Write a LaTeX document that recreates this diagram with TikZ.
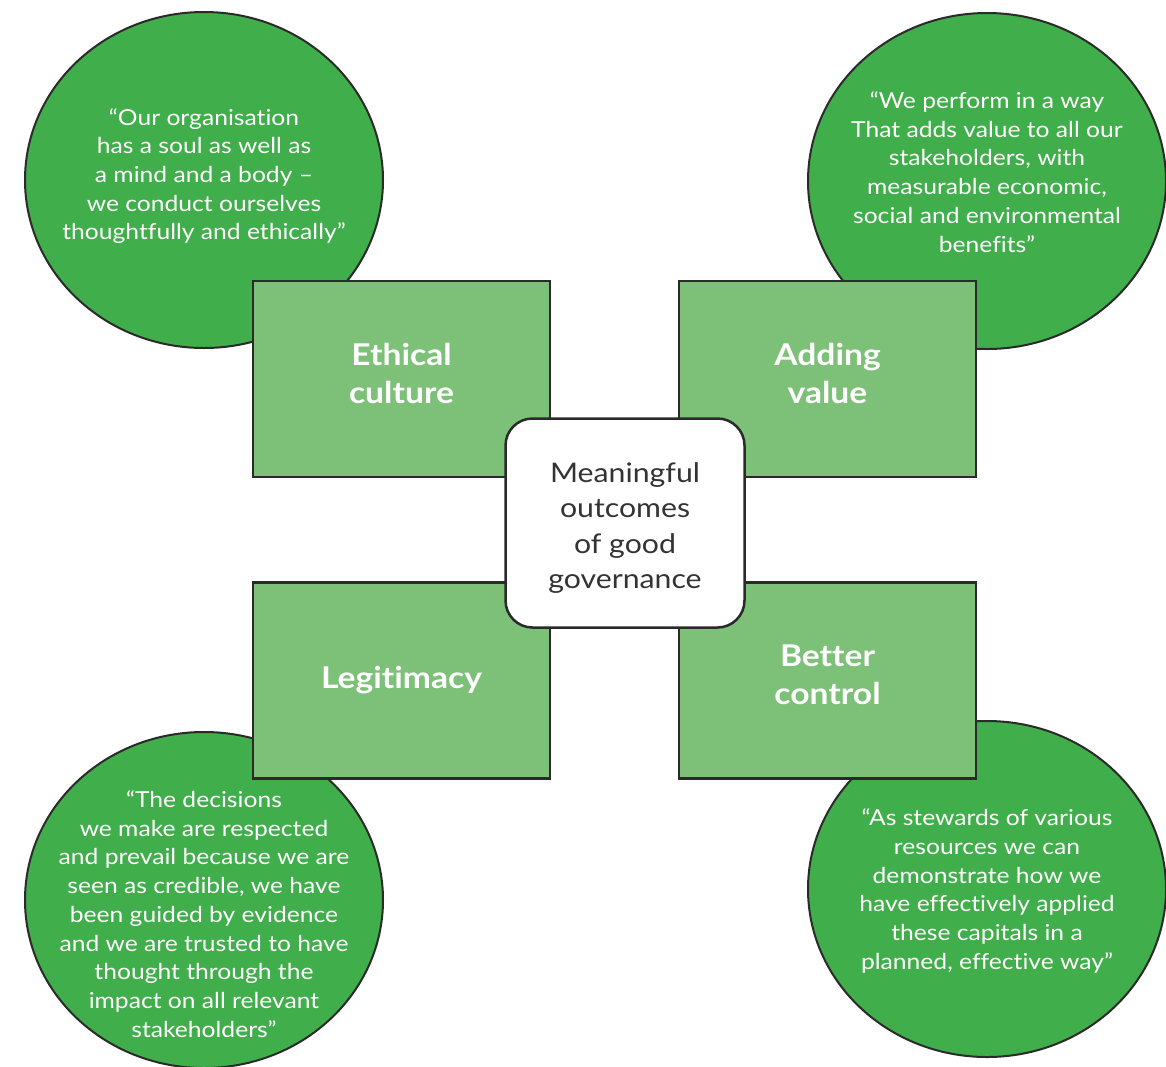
\documentclass[tikz,border=0pt]{standalone}
\usepackage{fontspec}
\setmainfont{Lato}[FakeStretch=1.12,Ligatures=NoCommon]
\usetikzlibrary{shapes.geometric}
\definecolor{quoteGreen}{HTML}{40AE4A}
\definecolor{boxGreen}{HTML}{7DC178}
\definecolor{edgeGrey}{HTML}{2A2A2A}
\definecolor{hubText}{HTML}{333333}
\newcommand{\quoteFont}{\fontsize{22}{28.7}\selectfont}
\newcommand{\pillarFont}{\fontsize{30}{38}\selectfont\bfseries}
\newcommand{\hubFont}{\fontsize{27}{35.5}\selectfont}

\begin{document}
\begin{tikzpicture}[x=1pt,y=-1pt,
  quoteball/.style={ellipse,draw=edgeGrey,line width=2pt,fill=quoteGreen,minimum width=358pt,minimum height=336pt,inner sep=0pt},
  quotetext/.style={text=white,align=center,font=\quoteFont,inner sep=0pt},
  pillar/.style={rectangle,draw=edgeGrey,line width=2.5pt,fill=boxGreen,minimum width=297pt,minimum height=196pt,text=white,align=center,font=\pillarFont},
  hub/.style={rectangle,rounded corners=27pt,draw=edgeGrey,line width=2.5pt,fill=white,minimum width=239pt,minimum height=209pt,text=hubText,align=center,font=\hubFont}]
 \useasboundingbox (0,0) rectangle (1166,1066);
 \node[quoteball] (tlBall) at (204,180) {};
 \node[quoteball] (trBall) at (987,181) {};
 \node[quoteball] (blBall) at (204,900) {};
 \node[quoteball] (brBall) at (987,889) {};
 \node[quotetext] at ([yshift=4pt]tlBall.center) {“Our organisation\\has a soul as well as\\a mind and a body --\\we conduct ourselves\\thoughtfully and ethically”};
 \node[quotetext] at ([yshift=9pt]trBall.center) {“We perform in a way\\That adds value to all our\\stakeholders, with\\measurable economic,\\social and environmental\\benefits”};
 \node[quotetext] at ([yshift=-14pt]blBall.center) {“The decisions\\we make are respected\\and prevail because we are\\seen as credible, we have\\been guided by evidence\\and we are trusted to have\\thought through the\\impact on all relevant\\stakeholders”};
 \node[quotetext] at ([yshift=-2pt]brBall.center) {“As stewards of various\\resources we can\\demonstrate how we\\have effectively applied\\these capitals in a\\planned, effective way”};
 \node[pillar] (ethical) at (401.5,379) {Ethical\\culture\rule[-12pt]{0pt}{1pt}};
 \node[pillar] (adding) at (827.5,379) {Adding\\value\rule[-12pt]{0pt}{1pt}};
 \node[pillar] (legit) at (401.5,680.5) {Legitimacy};
 \node[pillar] (control) at (827.5,680.5) {Better\\control\rule[-12pt]{0pt}{1pt}};
 \node[hub] (outcomes) at (625,523) {\rule{0pt}{30pt}Meaningful\\outcomes\\of good\\governance};
\end{tikzpicture}
\end{document}
